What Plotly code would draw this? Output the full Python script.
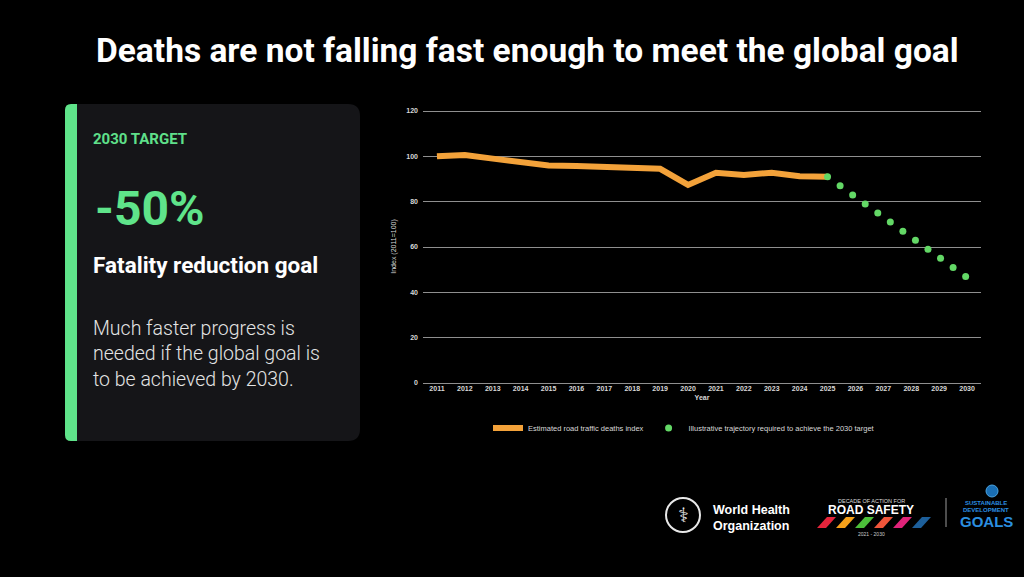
import plotly.graph_objects as go

# data
years = list(range(2011, 2026))
deaths_index = [100, 100.6, 99.0, 97.2, 96.0, 95.8, 95.2, 94.5, 94.5, 87.4, 92.8, 91.8, 92.8, 91.2, 91.0]

target_x = [2025.0, 2025.45, 2025.9, 2026.35, 2026.8, 2027.25, 2027.7, 2028.15, 2028.6, 2029.05, 2029.5, 2029.95]
target_y = [91, 87, 83, 79, 75, 71, 67, 63, 59, 55, 51, 47]

tick_years = list(range(2011, 2031))
y_ticks = [0, 20, 40, 60, 80, 100, 120]

W, H = 1024, 577


def px(x):
    return x / W


def py(y):
    return 1 - y / H


def rounded_path(x0, y0, x1, y1, rl, rr):
    # rounded rect in pixel coords -> paper path (rl: left radius, rr: right radius)
    pts = [
        f"M {px(x0 + rl)} {py(y0)}",
        f"L {px(x1 - rr)} {py(y0)}",
        f"Q {px(x1)} {py(y0)} {px(x1)} {py(y0 + rr)}",
        f"L {px(x1)} {py(y1 - rr)}",
        f"Q {px(x1)} {py(y1)} {px(x1 - rr)} {py(y1)}",
        f"L {px(x0 + rl)} {py(y1)}",
        f"Q {px(x0)} {py(y1)} {px(x0)} {py(y1 - rl)}",
        f"L {px(x0)} {py(y0 + rl)}",
        f"Q {px(x0)} {py(y0)} {px(x0 + rl)} {py(y0)}",
        "Z",
    ]
    return " ".join(pts)


fig = go.Figure()

fig.add_trace(go.Scatter(
    x=years, y=deaths_index,
    mode="lines",
    name="Estimated road traffic deaths index",
    line=dict(color="#f3a23a", width=6),
))

fig.add_trace(go.Scatter(
    x=target_x, y=target_y,
    mode="markers",
    name="Illustrative trajectory required to achieve the 2030 target",
    marker=dict(color="#63d866", size=7),
))

shapes = []
# card
shapes.append(dict(type="path", xref="paper", yref="paper",
                   path=rounded_path(65, 104, 360, 441, 10, 12),
                   fillcolor="#151518", line=dict(width=0), layer="below"))
shapes.append(dict(type="path", xref="paper", yref="paper",
                   path=rounded_path(65, 104, 77, 441, 6, 0),
                   fillcolor="#5fe48a", line=dict(width=0), layer="below"))

# road safety stripes
stripe_colors = ["#e5243b", "#f6a11a", "#4cbf3a", "#f0553a", "#e0237a", "#1d5f9a"]
for i, c in enumerate(stripe_colors):
    bx = 817 + i * 19
    shapes.append(dict(type="path", xref="paper", yref="paper",
                       path=f"M {px(bx)} {py(528)} L {px(bx + 9)} {py(528)} L {px(bx + 19)} {py(517)} L {px(bx + 10)} {py(517)} Z",
                       fillcolor=c, line=dict(width=0)))
# divider
shapes.append(dict(type="line", xref="paper", yref="paper",
                   x0=px(946), x1=px(946), y0=py(498), y1=py(527),
                   line=dict(color="#9a9a9a", width=1)))
# WHO emblem ring
shapes.append(dict(type="circle", xref="paper", yref="paper",
                   x0=px(666), x1=px(700), y0=py(532), y1=py(498),
                   line=dict(color="#e8e8e8", width=2)))
# UN emblem
shapes.append(dict(type="circle", xref="paper", yref="paper",
                   x0=px(986), x1=px(998), y0=py(497), y1=py(485),
                   fillcolor="#1a6fb5", line=dict(color="#4aa3e0", width=1)))

anns = []


def txt(x, y, s, size, color="white", family="Roboto", weight=400, xanchor="left", yanchor="middle", align="left"):
    anns.append(dict(x=px(x), y=py(y), xref="paper", yref="paper", text=s, showarrow=False,
                     xanchor=xanchor, yanchor=yanchor, align=align,
                     font=dict(size=size, color=color, family=family, weight=weight)))


txt(527, 50, "Deaths are not falling fast enough to meet the global goal", 33.5, weight=700, xanchor="center")
txt(91, 139, "2030 TARGET", 15, color="#5fe08a", weight=700)
txt(93, 208, "-50%", 48, color="#5fe48a", weight=700)
txt(91, 265, "Fatality reduction goal", 22.5, weight=700)
txt(91, 354, "Much faster progress is<br>needed if the global goal is<br>to be achieved by 2030.", 19.5,
    color="#e4e4e4", weight=300)

txt(683, 515, "⚕", 20, color="#e8e8e8", family="DejaVu Sans", xanchor="center")
txt(711, 518, "World Health<br>Organization", 12.5, family="Liberation Sans", weight=700)
txt(871, 501, "DECADE OF ACTION FOR", 5.5, color="#dddddd", family="Liberation Sans", xanchor="center")
txt(871, 510, "ROAD SAFETY", 12, family="Liberation Sans", weight=700, xanchor="center")
txt(871, 534, "2021 - 2030", 5, color="#cccccc", family="Liberation Sans", xanchor="center")
txt(986, 503, "SUSTAINABLE", 6, color="#2b8fe0", family="Liberation Sans", weight=700, xanchor="center")
txt(986, 510, "DEVELOPMENT", 6, color="#2b8fe0", family="Liberation Sans", weight=700, xanchor="center")
txt(986, 521, "GOALS", 15, color="#2b8fe0", family="Liberation Sans", weight=700, xanchor="center")

fig.update_layout(
    width=W, height=H,
    margin=dict(l=0, r=0, t=0, b=0),
    paper_bgcolor="black",
    plot_bgcolor="black",
    shapes=shapes,
    annotations=anns,
    font=dict(family="Liberation Sans", color="#d8d8d8", size=7),
    legend=dict(orientation="h", x=px(684), y=py(428), xanchor="center", yanchor="middle",
                font=dict(size=7.5, color="#d8d8d8"), bgcolor="rgba(0,0,0,0)"),
    xaxis=dict(
        domain=[px(423), px(981)],
        range=[2010.5, 2030.5],
        tickvals=tick_years,
        ticktext=[f"<b>{y}</b>" for y in tick_years],
        showgrid=False, zeroline=False, showline=False,
        tickfont=dict(size=7, color="#d8d8d8"),
        ticks="", ticklen=0,
        title=dict(text="<b>Year</b>", font=dict(size=7, color="#d8d8d8"), standoff=4),
        automargin=False,
    ),
    yaxis=dict(
        domain=[py(383), py(109.9)],
        range=[0, 120.5],
        tickvals=y_ticks,
        ticktext=[f"<b>{v}</b>" for v in y_ticks],
        showgrid=True, gridcolor="#8f8f8f", gridwidth=1,
        zeroline=True, zerolinecolor="#8f8f8f", zerolinewidth=1,
        showline=False,
        tickfont=dict(size=7, color="#d8d8d8"),
        ticks="", ticklabelstandoff=4,
        title=dict(text="Index (2011=100)", font=dict(size=7, color="#d8d8d8"), standoff=8),
        automargin=False,
    ),
)

fig.write_html("out.html",
               config={"displayModeBar": False},
               post_script="document.body.style.margin='0';document.body.style.background='black';")
